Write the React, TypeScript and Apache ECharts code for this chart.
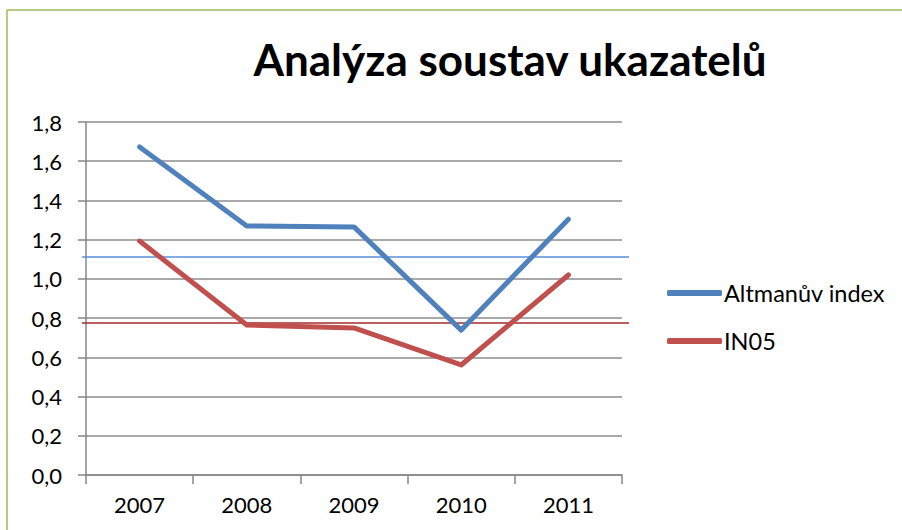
import React, { useEffect, useRef } from "react";
import * as echarts from "echarts";

const categories = ["2007", "2008", "2009", "2010", "2011"];
const altman = [1.673, 1.27, 1.265, 0.739, 1.304];
const in05 = [1.193, 0.765, 0.75, 0.561, 1.02];
const altmanRef = 1.112;
const in05Ref = 0.775;
const title = "Analýza soustav ukazatelů";
const seriesNames = ["Altmanův index", "IN05"];

const FONT = "Lato, 'Open Sans', sans-serif";

export default function App() {
  const ref = useRef<HTMLDivElement>(null);
  useEffect(() => {
    if (!ref.current) return;
    const chart = echarts.init(ref.current, null, { renderer: "svg" });
    const border = [
      {
        type: "line",
        shape: { x1: 7, y1: 10, x2: 902, y2: 10 },
        style: { stroke: "#9BBB59", lineWidth: 1.5 },
        silent: true,
      },
      {
        type: "line",
        shape: { x1: 7, y1: 10, x2: 7, y2: 530 },
        style: { stroke: "#9BBB59", lineWidth: 1.5 },
        silent: true,
      },
    ];
    chart.setOption({
      animation: false,
      backgroundColor: "#fff",
      title: {
        text: title,
        left: 505,
        top: 32,
        textAlign: "center",
        textStyle: { fontFamily: FONT, fontWeight: "bold", fontSize: 44, color: "#000" },
      },
      graphic: border,
      legend: {
        orient: "vertical",
        left: 662,
        top: 276,
        itemWidth: 55,
        itemHeight: 6,
        itemGap: 24,
        textStyle: { fontFamily: FONT, fontSize: 23.5, color: "#000", padding: [0, 0, 0, -3] },
        data: seriesNames.map((n) => ({ name: n, icon: "roundRect" })),
      },
      grid: { left: 86, right: 280, top: 122, bottom: 55 },
      xAxis: {
        type: "category",
        data: categories,
        boundaryGap: true,
        axisLine: { lineStyle: { color: "#868686", width: 1.5 } },
        axisTick: { show: true, length: 9, alignWithLabel: false, lineStyle: { color: "#868686", width: 1.5 } },
        axisLabel: { fontFamily: FONT, fontSize: 22, color: "#000", margin: 18 },
      },
      yAxis: {
        type: "value",
        min: 0,
        max: 1.8,
        interval: 0.2,
        axisLine: { show: true, lineStyle: { color: "#868686", width: 1.5 } },
        axisTick: { show: true, length: 8, lineStyle: { color: "#868686", width: 1.5 } },
        axisLabel: {
          fontFamily: FONT,
          fontSize: 22,
          color: "#000",
          margin: 24,
          formatter: (v: number) => v.toFixed(1).replace(".", ","),
        },
        splitLine: { lineStyle: { color: "#8C8C8C", width: 1.5 } },
      },
      series: [
        {
          name: seriesNames[0],
          type: "line",
          data: altman,
          symbol: "none",
          color: "#4F81BD",
          lineStyle: { width: 5, cap: "round", join: "round" },
          z: 3,
        },
        {
          name: seriesNames[1],
          type: "line",
          data: in05,
          symbol: "none",
          color: "#C0504D",
          lineStyle: { width: 5, cap: "round", join: "round" },
          z: 3,
        },
      ],
    });
    const yA = chart.convertToPixel({ yAxisIndex: 0 }, altmanRef) as number;
    const yI = chart.convertToPixel({ yAxisIndex: 0 }, in05Ref) as number;
    chart.setOption({
      graphic: [
        ...border,
        {
          type: "line",
          z: 1,
          shape: { x1: 82, y1: yA, x2: 629, y2: yA },
          style: { stroke: "#5B8EDB", lineWidth: 1.5 },
          silent: true,
        },
        {
          type: "line",
          z: 1,
          shape: { x1: 82, y1: yI, x2: 629, y2: yI },
          style: { stroke: "#A52A2A", lineWidth: 1.5 },
          silent: true,
        },
      ],
    });
    return () => chart.dispose();
  }, []);
  return (
    <div
      ref={ref}
      style={{ position: "fixed", left: 0, top: 0, width: 902, height: 530 }}
    />
  );
}
